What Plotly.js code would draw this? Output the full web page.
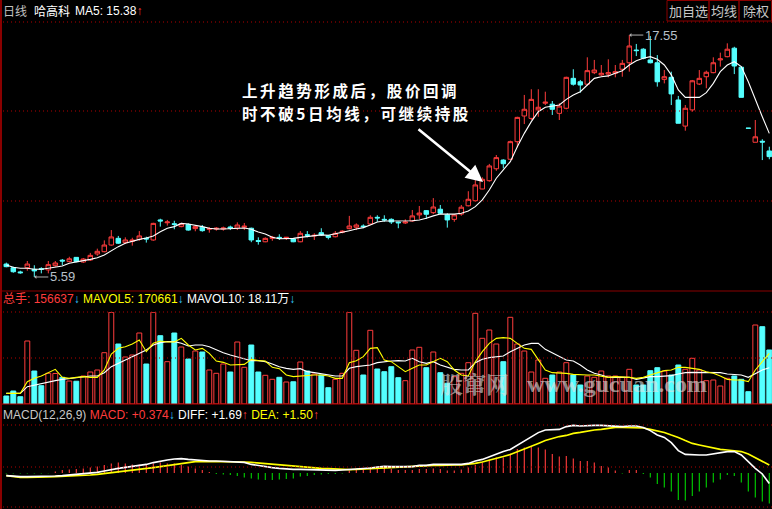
<!DOCTYPE html>
<html><head><meta charset="utf-8">
<script src="https://cdn.plot.ly/plotly-3.0.1.min.js"></script>
<style>html,body{margin:0;padding:0;background:#000;}#chart{width:772px;height:509px;}</style>
</head><body><div id="chart"></div>
<script>
// ---- data ----
const days = Array.from({length:110}, (_, i) => i); // trading-day index
const open = [6.23,6.05,5.84,6.05,5.97,6.00,5.94,6.15,6.42,6.35,
 6.56,6.33,6.43,6.73,6.84,7.17,7.50,7.29,7.35,7.45,
 7.50,7.42,8.41,8.27,8.22,8.08,8.19,7.98,8.05,7.95,
 7.96,7.96,8.06,8.01,8.05,8.00,7.39,7.33,7.50,7.55,
 7.50,7.47,7.33,7.68,7.62,7.78,7.63,7.58,7.80,7.98,
 8.05,8.11,8.21,8.54,8.44,8.44,8.31,8.26,8.36,8.66,
 8.87,8.77,8.94,8.66,8.44,8.70,9.11,9.36,9.94,10.35,
 10.94,11.37,11.41,12.28,13.55,13.43,13.85,14.18,14.13,13.68,
 13.93,15.41,15.24,15.12,15.69,15.58,15.62,15.66,15.86,16.18,
 16.81,16.85,16.32,16.18,15.36,15.46,14.34,13.05,13.85,15.13,
 15.49,15.69,16.32,16.48,16.90,15.96,12.95,12.25,12.30,11.82];
const high = [6.30,6.10,5.90,6.38,6.17,6.07,6.38,6.38,6.48,6.59,
 6.56,6.53,6.78,6.99,7.40,7.91,7.62,7.55,7.53,7.86,
 7.58,8.27,8.47,8.41,8.37,8.27,8.24,8.13,8.16,8.06,
 8.06,8.08,8.13,8.29,8.26,8.03,7.55,7.55,7.62,7.70,
 7.57,7.50,7.86,7.86,7.75,8.00,7.67,7.86,7.90,8.61,
 8.24,8.19,8.64,8.64,8.64,8.49,8.32,8.44,8.90,9.10,
 8.90,9.49,9.15,8.74,8.70,9.15,9.83,10.38,10.52,11.18,
 11.62,11.41,12.33,13.51,14.59,14.87,14.87,14.75,14.29,14.18,
 15.49,15.86,15.33,16.45,16.32,16.07,16.35,16.07,16.32,17.55,
 17.11,16.90,17.50,16.56,15.82,15.74,14.54,14.09,15.33,15.82,
 15.79,16.45,16.68,17.14,16.97,15.99,12.95,13.35,12.40,12.03];
const low = [6.07,5.80,5.75,5.90,5.59,5.77,5.77,6.10,6.17,6.32,
 6.32,6.28,6.38,6.64,6.81,7.14,7.22,7.22,7.14,7.38,
 7.29,7.38,8.08,8.13,7.95,8.05,7.88,7.85,7.83,7.78,
 7.88,7.88,7.91,7.91,7.91,7.31,7.19,7.31,7.38,7.42,
 7.42,7.31,7.31,7.55,7.42,7.62,7.45,7.55,7.75,7.95,
 7.91,8.00,8.16,8.32,8.32,8.21,8.00,8.21,8.32,8.46,
 8.46,8.70,8.70,8.03,8.32,8.62,9.08,9.31,9.93,10.30,
 10.84,10.96,11.37,12.00,13.15,13.35,13.51,14.09,13.60,13.35,
 13.88,15.05,14.70,15.05,15.62,15.53,15.46,15.46,15.49,15.74,
 16.51,16.35,16.15,15.00,15.16,14.09,13.19,12.82,13.76,15.08,
 14.92,15.66,15.99,16.45,15.62,14.47,12.94,12.25,11.37,11.41];
const close = [6.10,5.85,5.80,6.23,5.89,5.97,6.20,6.28,6.38,6.49,
 6.35,6.48,6.66,6.86,7.17,7.57,7.26,7.42,7.42,7.62,
 7.47,8.24,8.36,8.31,8.19,8.22,7.91,8.08,7.88,7.98,
 8.00,8.01,8.01,8.16,8.10,7.42,7.35,7.50,7.55,7.50,
 7.55,7.33,7.75,7.65,7.65,7.67,7.55,7.75,7.85,8.11,
 8.16,8.08,8.54,8.51,8.41,8.31,8.27,8.31,8.61,8.75,
 8.69,9.05,8.74,8.41,8.66,9.04,9.43,10.14,10.42,11.08,
 11.49,11.19,12.28,13.48,13.88,14.37,13.98,14.23,13.88,14.04,
 15.46,15.12,15.08,15.79,15.82,15.66,15.69,15.74,16.15,17.01,
 16.78,16.40,16.18,15.24,15.49,14.64,13.19,13.93,15.29,15.41,
 15.71,16.18,16.37,16.85,16.02,14.47,12.94,12.52,12.26,11.54];
const ma5 = [6.18,6.07,6.02,6.02,5.97,5.97,6.02,6.07,6.13,6.27,
 6.35,6.40,6.46,6.54,6.68,6.89,7.09,7.26,7.37,7.45,
 7.52,7.62,7.83,8.00,8.08,8.24,8.21,8.16,8.08,8.00,
 7.96,7.96,7.98,8.00,8.01,7.95,7.81,7.72,7.55,7.48,
 7.48,7.50,7.55,7.58,7.62,7.67,7.65,7.72,7.78,7.88,
 7.96,8.03,8.16,8.31,8.36,8.36,8.36,8.36,8.37,8.41,
 8.49,8.61,8.70,8.70,8.70,8.74,8.85,9.07,9.40,9.89,
 10.47,10.89,11.29,12.03,12.69,13.27,13.76,13.98,14.04,14.09,
 14.37,14.59,14.75,15.08,15.41,15.49,15.53,15.66,15.79,16.07,
 16.28,16.40,16.48,16.35,16.07,15.58,14.84,14.47,14.47,14.47,
 14.70,15.16,15.74,16.07,16.23,15.99,15.24,14.34,13.51,12.69];
const volume = [23200,37700,21200,182700,95700,53100,89000,88500,77400,66700,
 66000,81200,92800,98600,148800,265900,174000,136300,142100,205900,
 116000,266000,198100,122700,205900,165300,130500,153700,150800,98600,
 89000,116000,92800,179800,106400,171100,92800,83200,71600,77400,
 63800,64500,121800,95700,87000,84100,47300,71600,89000,266000,
 155700,84100,213700,101500,93700,108200,76300,67600,156600,164400,
 105300,150800,90800,60000,79200,89000,119800,263000,190500,214600,
 174000,122700,251400,174000,153700,92800,127600,74500,84100,92800,
 119800,84100,55100,81200,77400,95700,81200,81200,77400,100600,
 55100,55100,96600,105300,95700,84100,113100,100600,132500,98600,
 67600,69600,52200,74500,81200,71600,35700,229100,224200,156637];
const mavol5 = [30900,30900,30900,64800,74400,81200,90900,100500,77300,74400,
 77300,79300,77300,77300,98600,145000,161400,166300,174000,185600,
 151800,175900,182700,179800,179800,190400,171100,156600,161400,146900,
 124700,120800,113100,115000,115000,129500,125700,124700,106300,102500,
 84100,79300,81200,84100,84100,84100,81200,74400,74400,119900,
 125700,137300,161400,163400,127600,122800,108300,93800,103400,113100,
 113100,122800,132400,122800,98600,84100,81200,122800,151800,175900,
 190400,192400,190400,175900,161400,158500,127600,98600,90900,90900,
 88900,86000,84100,84100,84100,81200,77300,79300,79300,77300,
 74400,77300,84100,90900,96700,98600,106300,106300,103400,100500,
 93800,88900,81200,71500,69600,69600,64800,98600,122800,146900];
const mavol10 = [30900,30900,30900,50300,55100,59900,62800,67700,71500,74400,
 77300,79300,81200,81200,90900,108300,117900,127600,137300,145000,
 156600,171100,177900,180800,180800,175900,168200,171100,171100,166300,
 156600,148900,142100,137300,132400,125700,125700,122800,116000,108300,
 103400,100500,102500,93800,90900,87000,84100,81200,81200,103400,
 108300,110200,113100,119900,122800,124700,125700,124700,132400,122800,
 117900,122800,113100,106300,100500,98600,98600,119900,129500,134400,
 137300,139200,151800,161400,171100,175900,175900,158500,148900,139200,
 127600,124700,113100,98600,88900,84100,77300,77300,77300,77300,
 71500,74400,79300,79300,81200,82200,87000,90900,91800,91800,
 91800,91800,90900,87000,86000,84100,77300,88900,98600,105400];
const macdHist = [-0.02,-0.03,-0.03,-0.03,-0.02,-0.02,-0.01,0.07,0.15,0.18,
 0.20,0.23,0.28,0.32,0.40,0.48,0.52,0.48,0.43,0.43,
 0.43,0.48,0.53,0.48,0.48,0.40,0.32,0.23,0.15,0.05,
 -0.05,-0.08,-0.10,-0.15,-0.22,-0.28,-0.32,-0.35,-0.35,-0.32,
 -0.30,-0.27,-0.18,-0.15,-0.10,-0.08,-0.05,-0.05,-0.02,0.12,
 0.15,0.18,0.23,0.23,0.25,0.20,0.15,0.15,0.15,0.20,
 0.20,0.23,0.20,0.12,0.12,0.17,0.27,0.40,0.52,0.68,
 0.78,0.78,0.98,1.20,1.27,1.32,1.28,1.18,0.95,0.82,
 0.85,0.73,0.60,0.60,0.52,0.35,0.27,0.12,-0.02,0.15,
 0.15,-0.05,-0.23,-0.55,-0.72,-0.93,-1.35,-1.38,-1.15,-0.93,
 -0.73,-0.48,-0.32,-0.10,-0.15,-0.48,-0.93,-1.23,-1.43,-1.52];
const diff = [-0.13,-0.17,-0.18,-0.18,-0.18,-0.18,-0.17,-0.15,-0.13,-0.10,
 -0.08,-0.05,-0.02,0.03,0.10,0.18,0.23,0.28,0.32,0.37,
 0.43,0.52,0.60,0.65,0.70,0.72,0.68,0.65,0.62,0.60,
 0.60,0.58,0.57,0.55,0.53,0.43,0.37,0.32,0.27,0.23,
 0.20,0.18,0.18,0.17,0.17,0.15,0.12,0.13,0.15,0.17,
 0.18,0.22,0.25,0.30,0.33,0.32,0.32,0.32,0.32,0.38,
 0.38,0.43,0.43,0.40,0.40,0.43,0.48,0.60,0.68,0.82,
 0.93,1.07,1.18,1.40,1.62,1.82,2.02,2.15,2.18,2.18,
 2.32,2.38,2.35,2.38,2.38,2.38,2.35,2.32,2.32,2.35,
 2.35,2.28,2.12,1.90,1.78,1.52,1.12,0.93,0.90,0.90,
 0.90,0.95,1.02,1.07,1.07,0.90,0.57,0.23,-0.05,-0.52];
const dea = [-0.13,-0.18,-0.22,-0.22,-0.22,-0.22,-0.20,-0.18,-0.17,-0.15,
 -0.13,-0.12,-0.10,-0.07,-0.03,0.00,0.05,0.10,0.13,0.18,
 0.22,0.27,0.32,0.37,0.42,0.48,0.53,0.57,0.58,0.58,
 0.58,0.58,0.58,0.57,0.55,0.53,0.50,0.47,0.45,0.42,
 0.37,0.33,0.30,0.28,0.27,0.23,0.22,0.20,0.18,0.17,
 0.18,0.20,0.22,0.23,0.27,0.28,0.30,0.32,0.35,0.35,
 0.37,0.38,0.38,0.40,0.40,0.40,0.43,0.48,0.55,0.63,
 0.72,0.82,0.92,1.07,1.20,1.35,1.48,1.62,1.73,1.82,
 1.88,1.98,2.03,2.10,2.15,2.18,2.23,2.28,2.28,2.28,
 2.28,2.25,2.18,2.12,2.03,1.90,1.78,1.62,1.48,1.40,
 1.32,1.23,1.18,1.15,1.12,1.07,0.95,0.78,0.60,0.40];
const highIdx = 89, highLabel = '17.55';
const lowIdx = 4, lowLabel = '5.59';

// ---- styling ----
const W = 772, H = 509;
const px = x => x / W, py = y => 1 - y / H;
const RED = '#ff3c3c', CYAN = '#54ffff', YEL = '#ffff00', GREEN = '#00d000';
const FONT = 'Liberation Sans, Arial, Noto Sans CJK SC, sans-serif';
const CJK = 'Noto Sans CJK SC, sans-serif';

const up = days.map(i => close[i] >= open[i]);

const traces = [
  {type:'candlestick', x:days, open:open, high:high, low:low, close:close,
   xaxis:'x', yaxis:'y', whiskerwidth:0, hoverinfo:'skip',
   increasing:{line:{color:RED, width:1}, fillcolor:'#000000'},
   decreasing:{line:{color:CYAN, width:1}, fillcolor:CYAN}},
  {type:'scatter', mode:'lines', x:days, y:ma5, xaxis:'x', yaxis:'y',
   line:{color:'#ffffff', width:1.1}, hoverinfo:'skip'},
  {type:'bar', x:days, y:volume, xaxis:'x', yaxis:'y2', width:0.7,
   marker:{color:up.map(u => u ? '#000000' : CYAN),
           line:{color:up.map(u => u ? RED : CYAN), width:1}}, hoverinfo:'skip'},
  {type:'scatter', mode:'lines', x:days, y:mavol10, xaxis:'x', yaxis:'y2',
   line:{color:'#ffffff', width:1.1}, hoverinfo:'skip'},
  {type:'scatter', mode:'lines', x:days, y:mavol5, xaxis:'x', yaxis:'y2',
   line:{color:YEL, width:1.1}, hoverinfo:'skip'},
  {type:'bar', x:days, y:macdHist, xaxis:'x', yaxis:'y3', width:0.16,
   marker:{color:macdHist.map(v => v >= 0 ? RED : GREEN), line:{width:0}}, hoverinfo:'skip'},
  {type:'scatter', mode:'lines', x:days, y:dea, xaxis:'x', yaxis:'y3',
   line:{color:YEL, width:1.6}, hoverinfo:'skip'},
  {type:'scatter', mode:'lines', x:days, y:diff, xaxis:'x', yaxis:'y3',
   line:{color:'#ffffff', width:1.6}, hoverinfo:'skip'}
];

const hidden = {visible:false, showgrid:false, zeroline:false, fixedrange:true};
const shapes = [];
const hline = (y, color, dash, x0) => shapes.push({type:'line', xref:'paper', yref:'paper',
  x0:px(x0 || 0), x1:1, y0:py(y), y1:py(y), line:{color:color, width:1, dash:dash}});
[22, 111, 201, 312, 358, 425, 467, 507].forEach(y => hline(y, '#b00000', '1px,3px', 3));
hline(291, '#8a0000', 'solid');
hline(404, '#c00000', 'solid');
shapes.push({type:'line', xref:'paper', yref:'paper', x0:px(1), x1:px(1), y0:0, y1:1,
  line:{color:'#8a0000', width:2}});
[[667,709],[709,739],[739,771.5]].forEach(([a,b]) => shapes.push({type:'rect', xref:'paper', yref:'paper',
  x0:px(a), x1:px(b), y0:py(21), y1:py(0.5), line:{color:'#8a0000', width:1}}));

const txt = (x, y, text, size, color, family, extra) => Object.assign({
  xref:'paper', yref:'paper', x:px(x), y:py(y), text:text, showarrow:false,
  xanchor:'left', yanchor:'middle', font:{family:family || FONT, size:size, color:color}}, extra || {});

const annotations = [
  txt(1, 11, '日线', 12, '#c0c0c0', CJK),
  txt(32, 11, '哈高科', 12, '#ffffff', CJK),
  txt(73, 11, 'MA5: 15.38<span style="color:' + RED + '">↑</span>', 12, '#ffffff'),
  txt(688, 11, '加自选', 13, '#c8c8c8', CJK, {xanchor:'center'}),
  txt(724, 11, '均线', 13, '#c8c8c8', CJK, {xanchor:'center'}),
  txt(755.5, 11, '除权', 13, '#c8c8c8', CJK, {xanchor:'center'}),
  txt(1, 299, '<span style="color:' + RED + '">总手: 156637</span><span style="color:#33c8ff">↓</span> ' +
     '<span style="color:' + YEL + '">MAVOL5: 170661</span><span style="color:#33c8ff">↓</span> ' +
     '<span style="color:#ffffff">MAVOL10: 18.11万</span><span style="color:#33c8ff">↓</span>', 12, '#ffffff'),
  txt(1, 415, '<span style="color:#c8c8c8">MACD(12,26,9)</span> <span style="color:' + RED + '">MACD: +0.374</span>' +
     '<span style="color:#33c8ff">↓</span> <span style="color:#ffffff">DIFF: +1.69</span><span style="color:' + RED + '">↑</span> ' +
     '<span style="color:' + YEL + '">DEA: +1.50</span><span style="color:' + RED + '">↑</span>', 12, '#ffffff'),
  // price extremes
  {xref:'x', yref:'y', x:highIdx, y:high[highIdx], text:highLabel, showarrow:true, ax:14, ay:0,
   xanchor:'left', yanchor:'middle', arrowhead:1, arrowsize:0.7, arrowwidth:1, arrowcolor:'#b0b0b0',
   font:{family:FONT, size:13, color:'#b8c0c8'}},
  {xref:'x', yref:'y', x:lowIdx, y:low[lowIdx], text:lowLabel, showarrow:true, ax:14, ay:0,
   xanchor:'left', yanchor:'middle', arrowhead:1, arrowsize:0.7, arrowwidth:1, arrowcolor:'#b0b0b0',
   font:{family:FONT, size:13, color:'#b8c0c8'}},
  // commentary (two lines)
  txt(240, 90, '<b><span style="letter-spacing:2.6px">上升趋势形成后，股价回调</span></b>', 15.5, '#ffffff', CJK),
  txt(240, 113, '<b><span style="letter-spacing:2.6px">时不破5日均线，可继续持股</span></b>', 15.5, '#ffffff', CJK),
  {xref:'paper', yref:'paper', x:px(483), y:py(182), ax:-66, ay:-54, text:'', showarrow:true,
   arrowhead:2, arrowsize:1.3, arrowwidth:2.6, arrowcolor:'#ffffff'},
  // watermark
  txt(438, 383, '<b>股窜网</b>', 23, 'rgba(225,225,225,0.62)', 'Noto Serif CJK SC, Noto Sans CJK SC, serif'),
  txt(525, 384, '<b>www.gucuan.com</b>', 24, 'rgba(225,225,225,0.62)', 'Liberation Serif, DejaVu Serif, serif')
];

const layout = {
  width:W, height:H, margin:{l:0, r:0, t:0, b:0, pad:0},
  paper_bgcolor:'#000000', plot_bgcolor:'#000000', showlegend:false,
  barmode:'overlay', boxgap:0.2, boxgroupgap:0.2,
  xaxis:Object.assign({}, hidden, {range:[-0.9, 109.386], rangeslider:{visible:false}}),
  yaxis:Object.assign({}, hidden, {domain:[py(290), py(22)], range:[4.947, 18.195]}),
  yaxis2:Object.assign({}, hidden, {domain:[py(404), py(312)], range:[0, 266800]}),
  yaxis3:Object.assign({}, hidden, {domain:[py(507), py(415)], range:[-1.7, 2.9]}),
  shapes:shapes, annotations:annotations
};

Plotly.newPlot('chart', traces, layout, {staticPlot:true, displayModeBar:false});
</script>
</body></html>
